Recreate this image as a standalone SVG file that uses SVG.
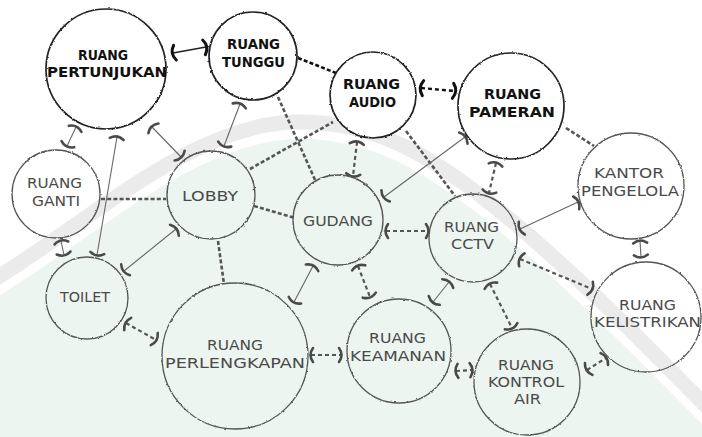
<svg xmlns="http://www.w3.org/2000/svg" width="702" height="437" viewBox="0 0 702 437">
<defs>
<filter id="rough" x="-10%" y="-10%" width="120%" height="120%">
<feTurbulence type="fractalNoise" baseFrequency="0.35" numOctaves="2" seed="3" result="n"/>
<feDisplacementMap in="SourceGraphic" in2="n" scale="2.2" xChannelSelector="R" yChannelSelector="G"/>
</filter>
<marker id="bar" viewBox="-10 -10 20 20" markerWidth="20" markerHeight="20" markerUnits="userSpaceOnUse" orient="auto-start-reverse" refX="0" refY="0">
<path d="M -2 -7 Q 3 0 -2 7" fill="none" stroke="#4a4a4a" stroke-width="2.6" stroke-linecap="round"/>
</marker>
<marker id="barK" viewBox="-10 -10 20 20" markerWidth="20" markerHeight="20" markerUnits="userSpaceOnUse" orient="auto-start-reverse" refX="0" refY="0">
<path d="M -2 -7.5 Q 3.5 0 -2 7.5" fill="none" stroke="#111" stroke-width="3" stroke-linecap="round"/>
</marker>
<path id="arc" d="M -10 282 C 90 222, 190 125, 295 122 C 370 120, 430 150, 525 232 C 600 297, 650 350, 712 412"/>
<style>
.bg{fill:#edf5f0}
.band1{fill:none;stroke:#ebebeb;stroke-width:15}
.band2{fill:none;stroke:#ffffff;stroke-width:24}
.node{fill:none;stroke:#555;stroke-width:1.3;filter:url(#rough)}
.nodeK{fill:#fff;stroke:#222;stroke-width:1.7;filter:url(#rough)}
.t{font-family:"DejaVu Sans","Liberation Sans",sans-serif;font-size:14px;fill:#4a4a4a}
.tK{font-family:"DejaVu Sans","Liberation Sans",sans-serif;font-size:14px;font-weight:bold;fill:#111}
.s{fill:none;stroke:#666;stroke-width:1.1;marker-start:url(#bar);marker-end:url(#bar)}
.sK{fill:none;stroke:#222;stroke-width:1.3;marker-start:url(#barK);marker-end:url(#barK)}
.d{fill:none;stroke:#555;stroke-width:2.2;stroke-dasharray:4 3;marker-start:url(#bar);marker-end:url(#bar)}
.dK{fill:none;stroke:#111;stroke-width:2.4;stroke-dasharray:4 3;marker-start:url(#barK);marker-end:url(#barK)}
.p{fill:none;stroke:#555;stroke-width:2.6;stroke-dasharray:4 2.2}
.pK{fill:none;stroke:#111;stroke-width:2.6;stroke-dasharray:4 2.2}
</style>
</defs>
<rect width="702" height="437" fill="#fff"/>
<path class="bg" d="M -10 282 C 90 222, 190 125, 295 122 C 370 120, 430 150, 525 232 C 600 297, 650 350, 712 412 L 712 447 L -10 447 Z"/>
<use href="#arc" class="band2" transform="translate(0,5)"/>
<use href="#arc" class="band1"/>

<g id="connectors">
<line class="sK" x1="173" y1="53" x2="206" y2="47"/>
<line class="pK" x1="298" y1="58" x2="336" y2="73"/>
<line class="dK" x1="421" y1="88" x2="455" y2="91"/>
<line class="s" x1="76" y1="127" x2="67" y2="146"/>
<line class="s" x1="117" y1="137" x2="97" y2="255"/>
<line class="s" x1="152" y1="127" x2="181" y2="157"/>
<line class="s" x1="240" y1="104" x2="224" y2="146"/>
<line class="p" x1="278" y1="97" x2="316" y2="182"/>
<line class="p" x1="250" y1="169" x2="333" y2="122"/>
<line class="p" x1="101" y1="199" x2="166" y2="199"/>
<line class="p" x1="254" y1="206" x2="295" y2="218"/>
<line class="s" x1="61" y1="241" x2="64" y2="255"/>
<line class="s" x1="124" y1="271" x2="176" y2="229"/>
<line class="p" x1="218" y1="241" x2="224" y2="284"/>
<line class="d" x1="126" y1="323" x2="156" y2="340"/>
<line class="s" x1="313" y1="266" x2="294" y2="302"/>
<line class="d" x1="311" y1="355" x2="341" y2="355"/>
<line class="d" x1="386" y1="231" x2="428" y2="231"/>
<line class="d" x1="357" y1="142" x2="353" y2="176"/>
<line class="p" x1="406" y1="131" x2="455" y2="196"/>
<line class="s" x1="465" y1="137" x2="384" y2="197"/>
<line class="d" x1="496" y1="163" x2="489" y2="193"/>
<line class="p" x1="566" y1="128" x2="594" y2="146"/>
<line class="s" x1="578" y1="202" x2="520" y2="229"/>
<line class="s" x1="640" y1="241" x2="641" y2="257"/>
<line class="d" x1="520" y1="259" x2="592" y2="289"/>
<line class="s" x1="449" y1="282" x2="433" y2="302"/>
<line class="d" x1="358" y1="266" x2="370" y2="297"/>
<line class="d" x1="490" y1="284" x2="512" y2="328"/>
<line class="d" x1="456" y1="371" x2="472" y2="370"/>
<line class="d" x1="587" y1="370" x2="606" y2="358"/>
</g>

<g id="ruang-pertunjukan"><circle class="nodeK" cx="106" cy="69" r="60"/>
<text class="tK" x="78" y="60" textLength="50" lengthAdjust="spacingAndGlyphs">RUANG</text>
<text class="tK" x="47" y="77" textLength="120" lengthAdjust="spacingAndGlyphs">PERTUNJUKAN</text></g>

<g id="ruang-tunggu"><circle class="nodeK" cx="253" cy="56" r="44"/>
<text class="tK" x="227" y="49" textLength="53" lengthAdjust="spacingAndGlyphs">RUANG</text>
<text class="tK" x="222" y="67" textLength="63" lengthAdjust="spacingAndGlyphs">TUNGGU</text></g>

<g id="ruang-audio"><circle class="nodeK" cx="373" cy="95" r="43"/>
<text class="tK" x="343" y="89" textLength="57" lengthAdjust="spacingAndGlyphs">RUANG</text>
<text class="tK" x="349" y="107" textLength="47" lengthAdjust="spacingAndGlyphs">AUDIO</text></g>

<g id="ruang-pameran"><circle class="nodeK" cx="511" cy="106" r="53"/>
<text class="tK" x="484" y="99" textLength="57" lengthAdjust="spacingAndGlyphs">RUANG</text>
<text class="tK" x="469" y="117" textLength="86" lengthAdjust="spacingAndGlyphs">PAMERAN</text></g>

<g id="kantor-pengelola"><circle class="node" cx="631" cy="186" r="53" style="fill:#fff"/>
<text class="t" x="594" y="178" textLength="70" lengthAdjust="spacingAndGlyphs">KANTOR</text>
<text class="t" x="581" y="196" textLength="98" lengthAdjust="spacingAndGlyphs">PENGELOLA</text></g>

<g id="ruang-ganti"><circle class="node" cx="56" cy="194" r="44"/>
<text class="t" x="27" y="188" textLength="55" lengthAdjust="spacingAndGlyphs">RUANG</text>
<text class="t" x="32" y="206" textLength="48" lengthAdjust="spacingAndGlyphs">GANTI</text></g>

<g id="lobby"><circle class="node" cx="211" cy="195" r="44"/>
<text class="t" x="182" y="201" textLength="56" lengthAdjust="spacingAndGlyphs">LOBBY</text></g>

<g id="gudang"><circle class="node" cx="338" cy="220" r="45"/>
<text class="t" x="303" y="226" textLength="70" lengthAdjust="spacingAndGlyphs">GUDANG</text></g>

<g id="ruang-cctv"><circle class="node" cx="473" cy="238" r="44"/>
<text class="t" x="444" y="232" textLength="55" lengthAdjust="spacingAndGlyphs">RUANG</text>
<text class="t" x="451" y="249" textLength="43" lengthAdjust="spacingAndGlyphs">CCTV</text></g>

<g id="toilet"><circle class="node" cx="87" cy="298" r="41"/>
<text class="t" x="60" y="302" textLength="50" lengthAdjust="spacingAndGlyphs">TOILET</text></g>

<g id="ruang-perlengkapan"><circle class="node" cx="235" cy="356" r="73"/>
<text class="t" x="207" y="350" textLength="56" lengthAdjust="spacingAndGlyphs">RUANG</text>
<text class="t" x="165" y="368" textLength="140" lengthAdjust="spacingAndGlyphs">PERLENGKAPAN</text></g>

<g id="ruang-keamanan"><circle class="node" cx="399" cy="351" r="52"/>
<text class="t" x="369" y="343" textLength="57" lengthAdjust="spacingAndGlyphs">RUANG</text>
<text class="t" x="350" y="361" textLength="96" lengthAdjust="spacingAndGlyphs">KEAMANAN</text></g>

<g id="ruang-kontrol-air"><circle class="node" cx="527" cy="382" r="53"/>
<text class="t" x="498" y="370" textLength="56" lengthAdjust="spacingAndGlyphs">RUANG</text>
<text class="t" x="488" y="387" textLength="76" lengthAdjust="spacingAndGlyphs">KONTROL</text>
<text class="t" x="514" y="404" textLength="27" lengthAdjust="spacingAndGlyphs">AIR</text></g>

<g id="ruang-kelistrikan"><circle class="node" cx="646" cy="317" r="55"/>
<text class="t" x="619" y="310" textLength="57" lengthAdjust="spacingAndGlyphs">RUANG</text>
<text class="t" x="594" y="327" textLength="107" lengthAdjust="spacingAndGlyphs">KELISTRIKAN</text></g>
</svg>
